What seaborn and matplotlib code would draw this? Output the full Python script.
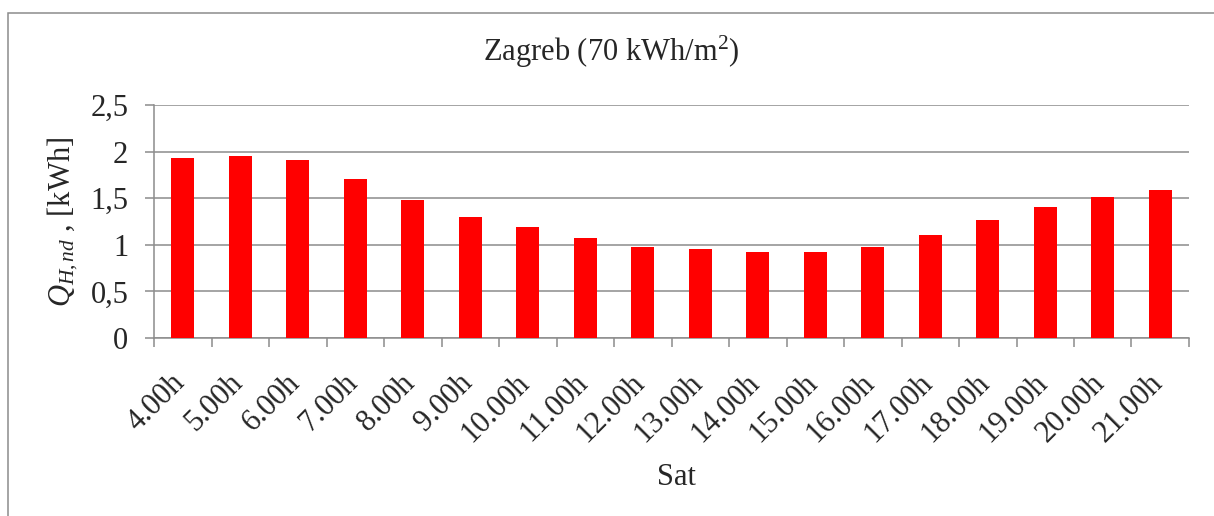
import matplotlib
matplotlib.use("Agg")
import matplotlib.pyplot as plt
import matplotlib.patches as mpatches
import matplotlib.transforms as mtransforms
import numpy as np
import pandas as pd
import seaborn as sns

# ── Data ───────────────────────────────────────────────────────────────────────
hours = ["4.00h", "5.00h", "6.00h", "7.00h", "8.00h", "9.00h", "10.00h",
         "11.00h", "12.00h", "13.00h", "14.00h", "15.00h", "16.00h",
         "17.00h", "18.00h", "19.00h", "20.00h", "21.00h"]
q_heat = [1.93, 1.95, 1.91, 1.71, 1.48, 1.30, 1.19, 1.07, 0.98,
          0.95, 0.92, 0.92, 0.98, 1.10, 1.27, 1.41, 1.51, 1.59]
y_ticks = [0, 0.5, 1, 1.5, 2, 2.5]
y_tick_labels = ["0", "0,5", "1", "1,5", "2", "2,5"]

title = "Zagreb (70 kWh/m$^2$)"
x_label = "Sat"
y_label = "$Q_{H,nd}$ , [kWh]"

# ── Style ──────────────────────────────────────────────────────────────────────
sns.set_style("white")
plt.rcParams["font.family"] = ["Liberation Serif", "DejaVu Serif"]
plt.rcParams["mathtext.fontset"] = "custom"
plt.rcParams["mathtext.rm"] = "Liberation Serif"
plt.rcParams["mathtext.it"] = "Liberation Serif:italic"

GRID = "#8c8c8c"
FS = 22

df = pd.DataFrame({"hour": hours, "q": q_heat})

fig = plt.figure(figsize=(12.14, 5.16), dpi=100)
ax = fig.add_axes([0.1269, 0.345, 0.8525, 0.4515])

sns.barplot(data=df, x="hour", y="q", color="#ff0000", saturation=1,
            width=0.4, linewidth=0, ax=ax, zorder=3)

ax.set_ylim(0, 2.5)
ax.set_xlim(-0.5, len(hours) - 0.5)
ax.set_yticks(y_ticks)
ax.set_yticklabels(y_tick_labels, fontsize=FS)
ax.yaxis.grid(True, color=GRID, linewidth=1.1, zorder=0)
ax.set_axisbelow(True)

for side in ("top", "right"):
    ax.spines[side].set_visible(False)
for side in ("left", "bottom"):
    ax.spines[side].set_color(GRID)
    ax.spines[side].set_linewidth(1.1)

ax.tick_params(axis="y", which="major", left=True, length=6.5, width=1.1,
               color=GRID, pad=12)
# category boundaries get the tick marks, labels sit under the bars
ax.set_xticks(np.arange(-0.5, len(hours), 1), minor=True)
ax.tick_params(axis="x", which="minor", bottom=True, length=6.5, width=1.1,
               color=GRID)
ax.tick_params(axis="x", which="major", bottom=False, length=0, pad=22)
ax.set_xticks(range(len(hours)))
ax.set_xticklabels(hours, fontsize=FS, rotation=45, ha="right", va="top")
shift = mtransforms.ScaledTranslation(8 / 100, 0, fig.dpi_scale_trans)
for lbl in ax.get_xticklabels():
    lbl.set_transform(lbl.get_transform() + shift)

ax.set_xlabel("")
ax.set_ylabel("")
fig.text(0.557, 0.074, x_label, fontsize=FS, ha="center", va="center")
fig.text(0.052, 0.57, y_label, fontsize=FS, ha="center", va="center",
         rotation=90)
fig.text(0.503, 0.899, title, fontsize=FS, ha="center", va="center")

# chart-area frame (cut off on right and bottom)
frame = mpatches.Rectangle((8.3 / 1214, -0.5), 2, 1.5 - 12.6 / 516,
                           transform=fig.transFigure, fill=False,
                           edgecolor=GRID, linewidth=1.1)
fig.patches.append(frame)

fig.savefig("out.png", dpi=100, facecolor="white")
